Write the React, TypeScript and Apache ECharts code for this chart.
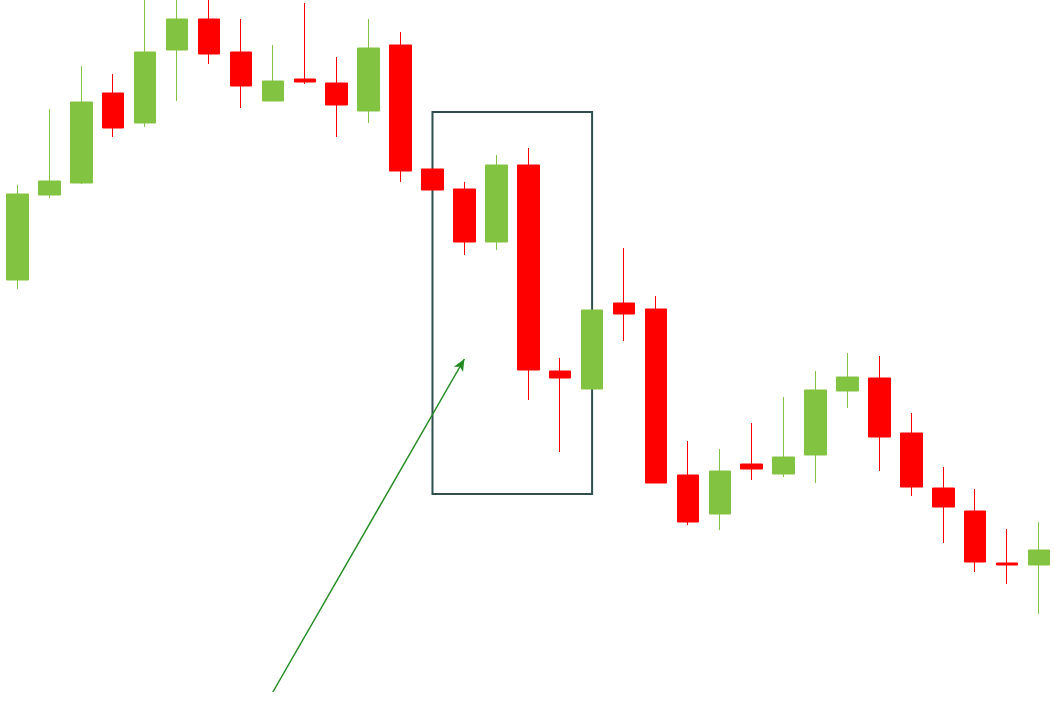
import React, { useEffect, useRef } from "react";
import * as echarts from "echarts";

// candles: [open, close, low, high]
const categories = Array.from({ length: 33 }, (_, i) => `D${i + 1}`);
const candles: number[][] = [
  [424, 510, 415, 519],
  [509, 523, 506, 595],
  [521, 602, 520, 638],
  [611, 576, 567, 630],
  [581, 652, 577, 720],
  [654, 685, 603, 720],
  [685, 650, 640, 712],
  [652, 618, 596, 685],
  [603, 623, 603, 659],
  [625, 622, 620, 701],
  [621, 599, 567, 647],
  [593, 656, 581, 685],
  [659, 533, 522, 672],
  [535, 514, 514, 535],
  [515, 462, 449, 522],
  [462, 539, 454, 549],
  [539, 334, 304, 556],
  [333, 326, 252, 346],
  [315, 394, 315, 394],
  [401, 390, 363, 456],
  [395, 221, 221, 408],
  [229, 182, 179, 263],
  [190, 233, 174, 255],
  [240, 235, 224, 281],
  [230, 247, 227, 307],
  [249, 314, 221, 333],
  [313, 327, 296, 351],
  [326, 267, 233, 348],
  [271, 217, 208, 291],
  [216, 197, 161, 237],
  [193, 142, 132, 215],
  [141, 139, 120, 175],
  [139, 154, 90, 182],
];

// annotation box: from category index 13 to 18, values 592 to 210
const boxStart = [13, 592];
const boxEnd = [18, 210];
// arrow: from category 8 at value 12 to category 14 at value 345
const arrowFrom = [8, 12];
const arrowTo = [14, 345];

const UP = "#82c341";
const DOWN = "#ff0000";

export default function App() {
  const ref = useRef<HTMLDivElement>(null);
  useEffect(() => {
    document.body.style.margin = "0";
    const chart = echarts.init(ref.current!, undefined, { renderer: "svg" });
    chart.setOption({
      animation: false,
      backgroundColor: "#ffffff",
      grid: { left: 1.5, top: 0, width: 1056, height: 704, containLabel: false },
      xAxis: {
        type: "category",
        data: categories,
        show: false,
        boundaryGap: true,
      },
      yAxis: {
        type: "value",
        min: 0,
        max: 704,
        show: false,
        splitLine: { show: false },
      },
      series: [
        {
          type: "candlestick",
          data: candles,
          barWidth: 22,
          clip: true,
          itemStyle: {
            color: UP,
            color0: DOWN,
            borderColor: UP,
            borderColor0: DOWN,
            borderWidth: 1,
          },
          markArea: {
            silent: true,
            itemStyle: {
              color: "rgba(0,0,0,0)",
              borderColor: "#2f4f4f",
              borderWidth: 2,
            },
            data: [
              [
                { coord: boxStart },
                { coord: boxEnd },
              ],
            ],
          },
          markLine: {
            silent: true,
            symbol: ["none", "arrow"],
            symbolSize: [8, 12],
            label: { show: false },
            lineStyle: { color: "#228b22", width: 1.5, type: "solid" },
            data: [[{ coord: arrowFrom }, { coord: arrowTo }]],
          },
        },
      ],
    });
    return () => chart.dispose();
  }, []);
  return (
    <div
      ref={ref}
      style={{ position: "absolute", left: 0, top: 0, width: 1055, height: 704 }}
    />
  );
}
